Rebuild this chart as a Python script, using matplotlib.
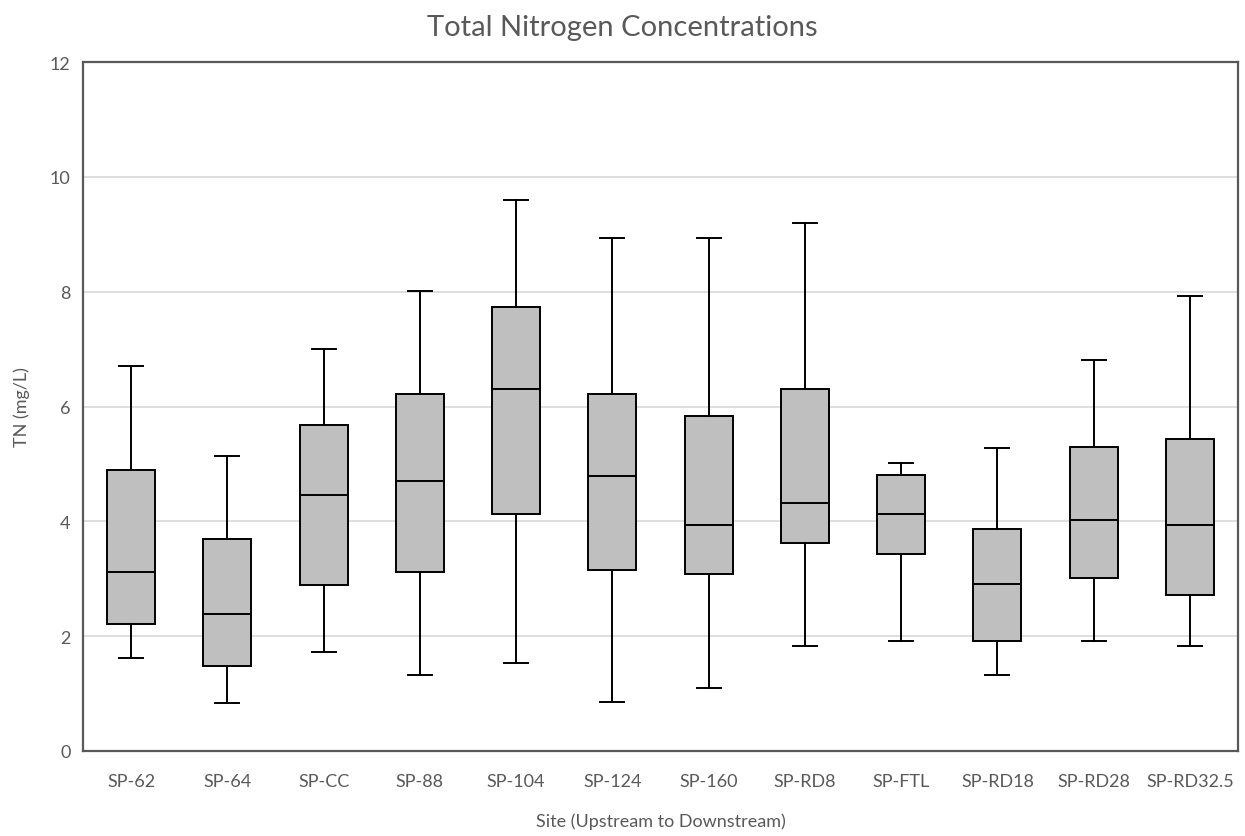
import matplotlib
matplotlib.use("Agg")
import matplotlib.pyplot as plt

sites = ["SP-62", "SP-64", "SP-CC", "SP-88", "SP-104", "SP-124", "SP-160",
         "SP-RD8", "SP-FTL", "SP-RD18", "SP-RD28", "SP-RD32.5"]
whisker_low = [1.62, 0.84, 1.72, 1.33, 1.53, 0.86, 1.09, 1.83, 1.92, 1.33, 1.92, 1.83]
q1 = [2.22, 1.48, 2.89, 3.11, 4.12, 3.16, 3.08, 3.63, 3.43, 1.92, 3.01, 2.72]
median = [3.11, 2.39, 4.46, 4.71, 6.31, 4.79, 3.93, 4.32, 4.12, 2.91, 4.02, 3.93]
q3 = [4.90, 3.69, 5.67, 6.21, 7.73, 6.21, 5.84, 6.31, 4.81, 3.87, 5.30, 5.43]
whisker_high = [6.70, 5.13, 7.01, 8.02, 9.59, 8.93, 8.93, 9.20, 5.01, 5.28, 6.81, 7.92]

plt.rcParams['font.family'] = ['Lato', 'DejaVu Sans']
text_color = '#595959'

fig = plt.figure(figsize=(12.45, 8.37), dpi=100)
ax = fig.add_axes([83/1245, 1 - 752/837, (1238-83)/1245, (752-63)/837])

stats = []
for i, s in enumerate(sites):
    stats.append(dict(label=s, whislo=whisker_low[i], q1=q1[i], med=median[i],
                      q3=q3[i], whishi=whisker_high[i], fliers=[]))

ax.bxp(stats, positions=list(range(len(sites))), widths=0.5, capwidths=0.25,
       patch_artist=True, showfliers=False,
       boxprops=dict(facecolor='#bfbfbf', edgecolor='black', linewidth=1.4),
       medianprops=dict(color='black', linewidth=1.4),
       whiskerprops=dict(color='black', linewidth=1.4),
       capprops=dict(color='black', linewidth=1.4))

ax.set_xlim(-0.5, len(sites) - 0.5)
ax.set_ylim(0, 12)
ax.set_yticks([0, 2, 4, 6, 8, 10, 12])
ax.yaxis.grid(True, color='#d9d9d9', linewidth=1.2)
ax.set_axisbelow(True)
ax.tick_params(axis='both', length=0, colors=text_color, labelsize=13)
ax.tick_params(axis='x', pad=16)
ax.tick_params(axis='y', pad=9)
for sp in ax.spines.values():
    sp.set_color('#595959')
    sp.set_linewidth(1.6)

ax.set_xlabel("Site (Upstream to Downstream)", color=text_color, fontsize=13, labelpad=17)
ax.set_ylabel("TN (mg/L)", color=text_color, fontsize=13, labelpad=14)
fig.text(0.5, 1 - 28/837, "Total Nitrogen Concentrations", ha='center', va='center',
         color=text_color, fontsize=21)

fig.savefig("out.png", dpi=100, facecolor='white')
